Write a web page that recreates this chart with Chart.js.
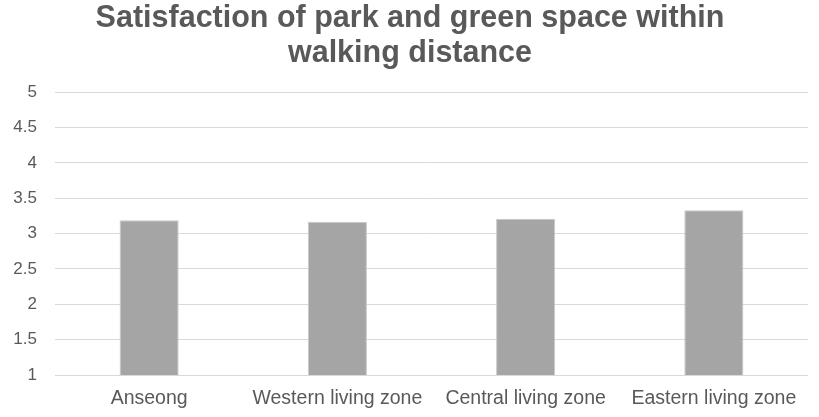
<!DOCTYPE html>
<html>
<head>
<meta charset="utf-8">
<script src="https://cdn.jsdelivr.net/npm/chart.js@4"></script>
<style>
  html, body { margin: 0; padding: 0; background: #fff; }
  #wrap { width: 819px; height: 417px; }
</style>
</head>
<body>
<div id="wrap"><canvas id="parkChart" width="819" height="417"></canvas></div>
<script>
const zones = ['Anseong', 'Western living zone', 'Central living zone', 'Eastern living zone'];
const satisfaction = [3.19, 3.17, 3.21, 3.33];
const titleLines = ['Satisfaction of park and green space within', 'walking distance'];

const ctx = document.getElementById('parkChart').getContext('2d');

new Chart(ctx, {
    type: 'bar',
    data: {
        labels: zones,
        datasets: [{
            label: 'Satisfaction',
            data: satisfaction,
            backgroundColor: '#a5a5a5',
            borderColor: '#c8c8c8',
            borderWidth: 1,
            categoryPercentage: 1.0,
            barPercentage: 0.314
        }]
    },
    options: {
        responsive: false,
        animation: false,
        layout: { padding: { left: 12, right: 11, top: 0, bottom: 0 } },
        plugins: {
            legend: { display: false },
            tooltip: { enabled: false },
            title: {
                display: true,
                text: titleLines,
                color: '#595959',
                font: { family: 'Liberation Sans', size: 30.5, weight: 'bold', lineHeight: 1.12 },
                padding: { top: 2, bottom: 22 }
            }
        },
        scales: {
            x: {
                grid: { display: false },
                border: { display: false },
                afterFit: function (scale) { scale.height = 42; },
                ticks: {
                    color: '#595959',
                    font: { family: 'Liberation Sans', size: 19.5 },
                    padding: 4,
                    maxRotation: 0,
                    autoSkip: false
                }
            },
            y: {
                min: 1,
                max: 5,
                grid: { color: '#d9d9d9', lineWidth: 1, drawTicks: false },
                border: { display: false },
                afterFit: function (scale) { scale.width = 43; },
                ticks: {
                    stepSize: 0.5,
                    color: '#595959',
                    font: { family: 'Liberation Sans', size: 17 },
                    padding: 18,
                    callback: function (value) { return String(value); }
                }
            }
        }
    }
});
</script>
</body>
</html>
